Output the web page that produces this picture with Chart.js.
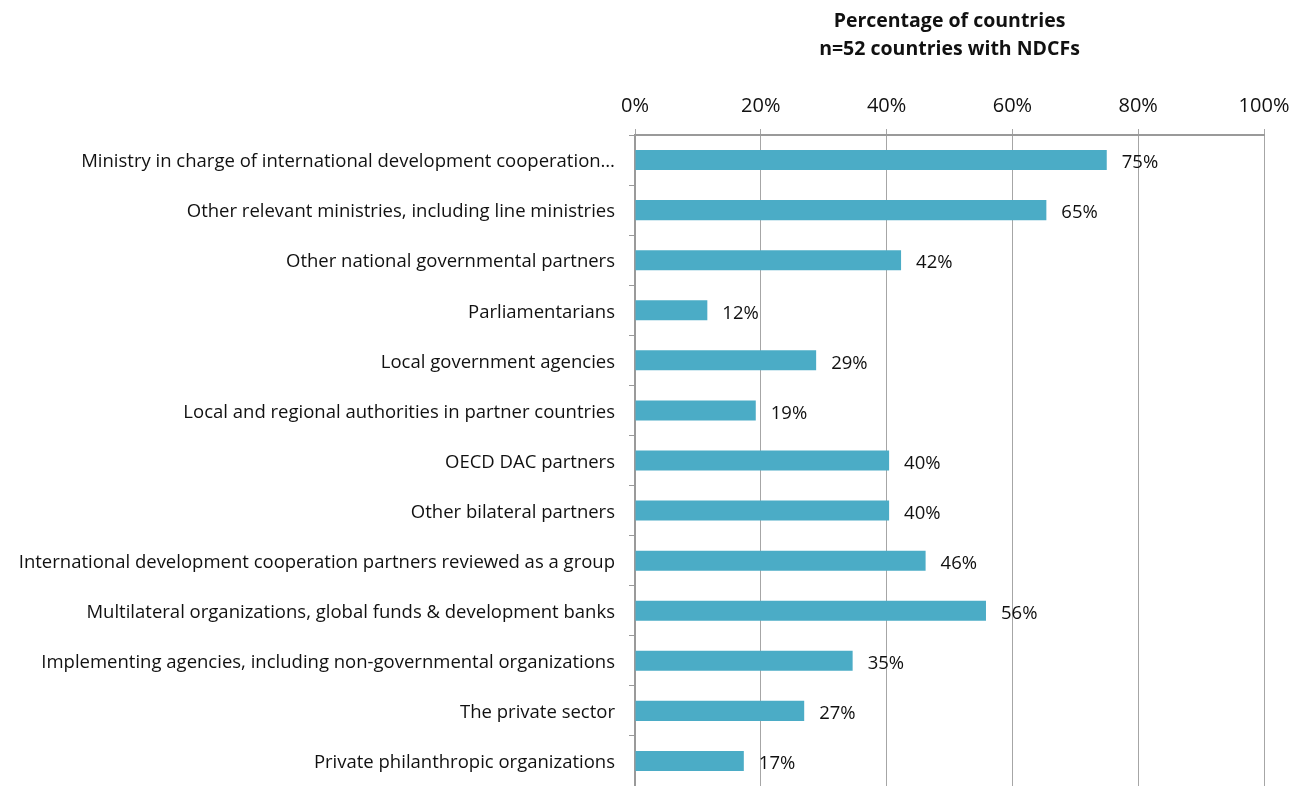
<!DOCTYPE html>
<html>
<head>
<meta charset="utf-8">
<script src="https://cdn.jsdelivr.net/npm/chart.js@4"></script>
<style>
  html, body { margin: 0; padding: 0; background: #fff; }
  #wrap { width: 1292px; height: 786px; position: relative; }
</style>
</head>
<body>
<div id="wrap"><canvas id="c" width="1292" height="786"></canvas></div>
<script>
const categories = [
  "Ministry in charge of international development cooperation\u2026",
  "Other relevant ministries, including line ministries",
  "Other national governmental partners",
  "Parliamentarians",
  "Local government agencies",
  "Local and regional authorities in partner countries",
  "OECD DAC partners",
  "Other bilateral partners",
  "International development cooperation partners reviewed as a group",
  "Multilateral organizations, global funds & development banks",
  "Implementing agencies, including non-governmental organizations",
  "The private sector",
  "Private philanthropic organizations"
];
const barValues = [75.0, 65.4, 42.3, 11.5, 28.8, 19.2, 40.4, 40.4, 46.2, 55.8, 34.6, 26.9, 17.3];
const valueLabels = ["75%", "65%", "42%", "12%", "29%", "19%", "40%", "40%", "46%", "56%", "35%", "27%", "17%"];
const titleLines = ["Percentage of countries", "n=52 countries with NDCFs"];
const xTicks = [0, 20, 40, 60, 80, 100];

const FONT = "'Open Sans', 'DejaVu Sans', sans-serif";

const valueLabelPlugin = {
  id: 'valueLabels',
  afterDatasetsDraw(chart) {
    const ctx = chart.ctx;
    const meta = chart.getDatasetMeta(0);
    ctx.save();
    ctx.font = "18.5px " + FONT;
    ctx.fillStyle = '#111';
    ctx.textAlign = 'left';
    ctx.textBaseline = 'middle';
    meta.data.forEach((bar, i) => {
      ctx.fillText(valueLabels[i], bar.x + 15, bar.y + 3);
    });
    ctx.restore();
  }
};

new Chart(document.getElementById('c'), {
  type: 'bar',
  data: {
    labels: categories,
    datasets: [{
      data: barValues,
      backgroundColor: '#4BACC6',
      borderWidth: 0,
      categoryPercentage: 1.0,
      barPercentage: 0.4
    }]
  },
  options: {
    indexAxis: 'y',
    responsive: false,
    animation: false,
    devicePixelRatio: 1,
    layout: { padding: { left: 0, right: 28, top: 0, bottom: 0 } },
    plugins: {
      legend: { display: false },
      tooltip: { enabled: false },
      title: { display: false }
    },
    scales: {
      x: {
        position: 'top',
        min: 0,
        max: 100,
        afterBuildTicks(scale) { scale.ticks = xTicks.map(v => ({ value: v })); },
        afterFit(scale) {
          scale.height = 135;
          scale.paddingLeft = 0;
          scale.paddingRight = 0;
        },
        ticks: {
          callback: v => v + '%',
          font: { family: FONT, size: 20 },
          color: '#111',
          padding: 11,
          maxRotation: 0
        },
        grid: {
          color: '#a6a6a6',
          lineWidth: 1,
          tickLength: 6,
          drawTicks: true
        },
        border: { color: '#9a9a9a', width: 2 },
        title: {
          display: true,
          text: titleLines,
          font: { family: FONT, size: 19.5, weight: 'bold', lineHeight: 28 / 19.5 },
          color: '#111',
          padding: { top: 7, bottom: 0 }
        }
      },
      y: {
        afterFit(scale) {
          scale.width = 635;
          scale.paddingTop = 0;
          scale.paddingBottom = 0;
        },
        ticks: {
          font: { family: FONT, size: 18.5 },
          color: '#111',
          padding: 14,
          labelOffset: 2,
          autoSkip: false
        },
        grid: {
          display: true,
          drawOnChartArea: false,
          drawTicks: true,
          tickLength: 6,
          color: '#9a9a9a',
          offset: true
        },
        border: { color: '#9a9a9a', width: 2 }
      }
    }
  },
  plugins: [valueLabelPlugin]
});
</script>
</body>
</html>
